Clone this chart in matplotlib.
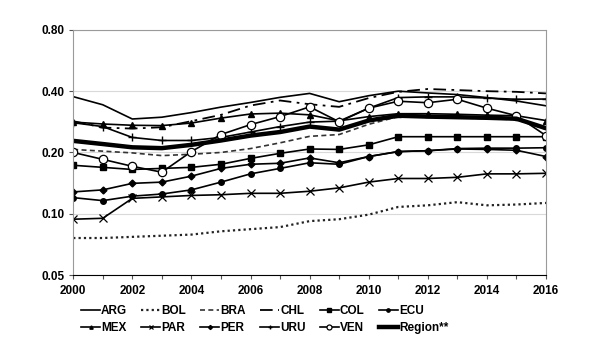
import numpy as np
import matplotlib
matplotlib.use("Agg")
import matplotlib.pyplot as plt
from matplotlib.ticker import FixedLocator, NullLocator, FuncFormatter

plt.rcParams['font.family'] = ['Liberation Sans', 'DejaVu Sans']

years = list(range(2000, 2017))

# valores (escala log)
arg = [0.376, 0.343, 0.292, 0.298, 0.314, 0.334, 0.352, 0.373, 0.390, 0.355, 0.380, 0.400, 0.392, 0.385, 0.372, 0.358, 0.339]
bol = [0.076, 0.076, 0.077, 0.078, 0.079, 0.082, 0.084, 0.086, 0.092, 0.094, 0.099, 0.108, 0.110, 0.114, 0.110, 0.111, 0.113]
bra = [0.207, 0.203, 0.199, 0.193, 0.196, 0.200, 0.209, 0.223, 0.240, 0.245, 0.275, 0.300, 0.300, 0.296, 0.293, 0.290, 0.260]
chl = [0.285, 0.265, 0.262, 0.266, 0.285, 0.306, 0.340, 0.360, 0.345, 0.335, 0.370, 0.397, 0.410, 0.405, 0.400, 0.397, 0.390]
col = [0.173, 0.169, 0.165, 0.167, 0.169, 0.175, 0.187, 0.198, 0.208, 0.207, 0.218, 0.239, 0.239, 0.239, 0.239, 0.239, 0.239]
ecu = [0.120, 0.116, 0.122, 0.125, 0.131, 0.143, 0.157, 0.167, 0.178, 0.175, 0.191, 0.202, 0.204, 0.209, 0.210, 0.210, 0.211]
mex = [0.282, 0.276, 0.272, 0.271, 0.279, 0.295, 0.309, 0.312, 0.306, 0.286, 0.300, 0.310, 0.310, 0.308, 0.305, 0.303, 0.287]
par = [0.094, 0.095, 0.119, 0.121, 0.123, 0.124, 0.126, 0.126, 0.129, 0.134, 0.143, 0.149, 0.149, 0.151, 0.157, 0.157, 0.158]
per = [0.128, 0.131, 0.141, 0.143, 0.153, 0.167, 0.175, 0.177, 0.188, 0.178, 0.191, 0.202, 0.204, 0.208, 0.207, 0.205, 0.191]
uru = [0.280, 0.268, 0.237, 0.229, 0.229, 0.237, 0.252, 0.268, 0.282, 0.285, 0.330, 0.372, 0.375, 0.375, 0.370, 0.365, 0.366]
ven = [0.200, 0.185, 0.171, 0.160, 0.202, 0.245, 0.274, 0.300, 0.335, 0.283, 0.330, 0.357, 0.351, 0.365, 0.330, 0.303, 0.242]
region = [0.228, 0.220, 0.212, 0.210, 0.218, 0.229, 0.242, 0.252, 0.268, 0.259, 0.287, 0.303, 0.300, 0.298, 0.296, 0.293, 0.263]

fig, ax = plt.subplots(figsize=(6, 3.6), dpi=100)
fig.subplots_adjust(left=0.122, right=0.91, top=0.917, bottom=0.236)

k = dict(color='black', lw=1.2)
ax.plot(years, arg, label='ARG', **k)
ax.plot(years, bol, label='BOL', color='#222222', lw=1.6, ls=(0, (1, 1.4)))
ax.plot(years, bra, label='BRA', color='#333333', lw=1.2, ls=(0, (3, 2)))
ax.plot(years, chl, label='CHL', color='black', lw=1.3, ls=(0, (7, 3, 1.5, 3)))
ax.plot(years, col, label='COL', marker='s', ms=4.5, **k)
ax.plot(years, ecu, label='ECU', marker='o', ms=4, **k)
ax.plot(years, mex, label='MEX', marker='^', ms=4, **k)
ax.plot(years, par, label='PAR', marker='x', ms=5.5, mew=0.9, **k)
ax.plot(years, per, label='PER', marker='D', ms=3.5, **k)
ax.plot(years, uru, label='URU', marker='+', ms=6, mew=1, **k)
ax.plot(years, ven, label='VEN', marker='o', ms=6, mfc='white', mec='black', mew=0.9, **k)
ax.plot(years, region, label='Region**', color='black', lw=3.2)

ax.set_yscale('log')
ax.set_ylim(0.05, 0.80)
ax.set_xlim(2000, 2016)
ax.yaxis.set_major_locator(FixedLocator([0.05, 0.10, 0.20, 0.40, 0.80]))
ax.yaxis.set_minor_locator(NullLocator())
ax.yaxis.set_major_formatter(FuncFormatter(lambda v, p: '%.2f' % v))
ax.set_xticks(range(2000, 2017, 2))
ax.set_xticks(range(2000, 2017), minor=True)
ax.grid(axis='y', color='#d9d9d9', lw=0.8)
ax.set_axisbelow(True)

for lab in ax.get_xticklabels() + ax.get_yticklabels():
    lab.set_fontweight('bold')
    lab.set_fontsize(8.5)
ax.tick_params(axis='both', which='both', direction='out', length=3, width=0.8, color='#555555')
ax.tick_params(axis='x', pad=4)

for s in ['top', 'right', 'left']:
    ax.spines[s].set_color('#9a9a9a')
    ax.spines[s].set_linewidth(0.8)
ax.spines['bottom'].set_color('black')

# orden por filas (matplotlib llena por columnas)
h, l = ax.get_legend_handles_labels()
order = [0, 6, 1, 7, 2, 8, 3, 9, 4, 10, 5, 11]
leg = ax.legend([h[i] for i in order], [l[i] for i in order], ncol=6,
                loc='upper center', bbox_to_anchor=(0.405, -0.08), frameon=False,
                prop={'weight': 'bold', 'size': 8.5}, handlelength=1.6,
                handletextpad=0.1, columnspacing=1.2, labelspacing=0.4,
                markerscale=0.6)

plt.savefig('out.png', dpi=100)
